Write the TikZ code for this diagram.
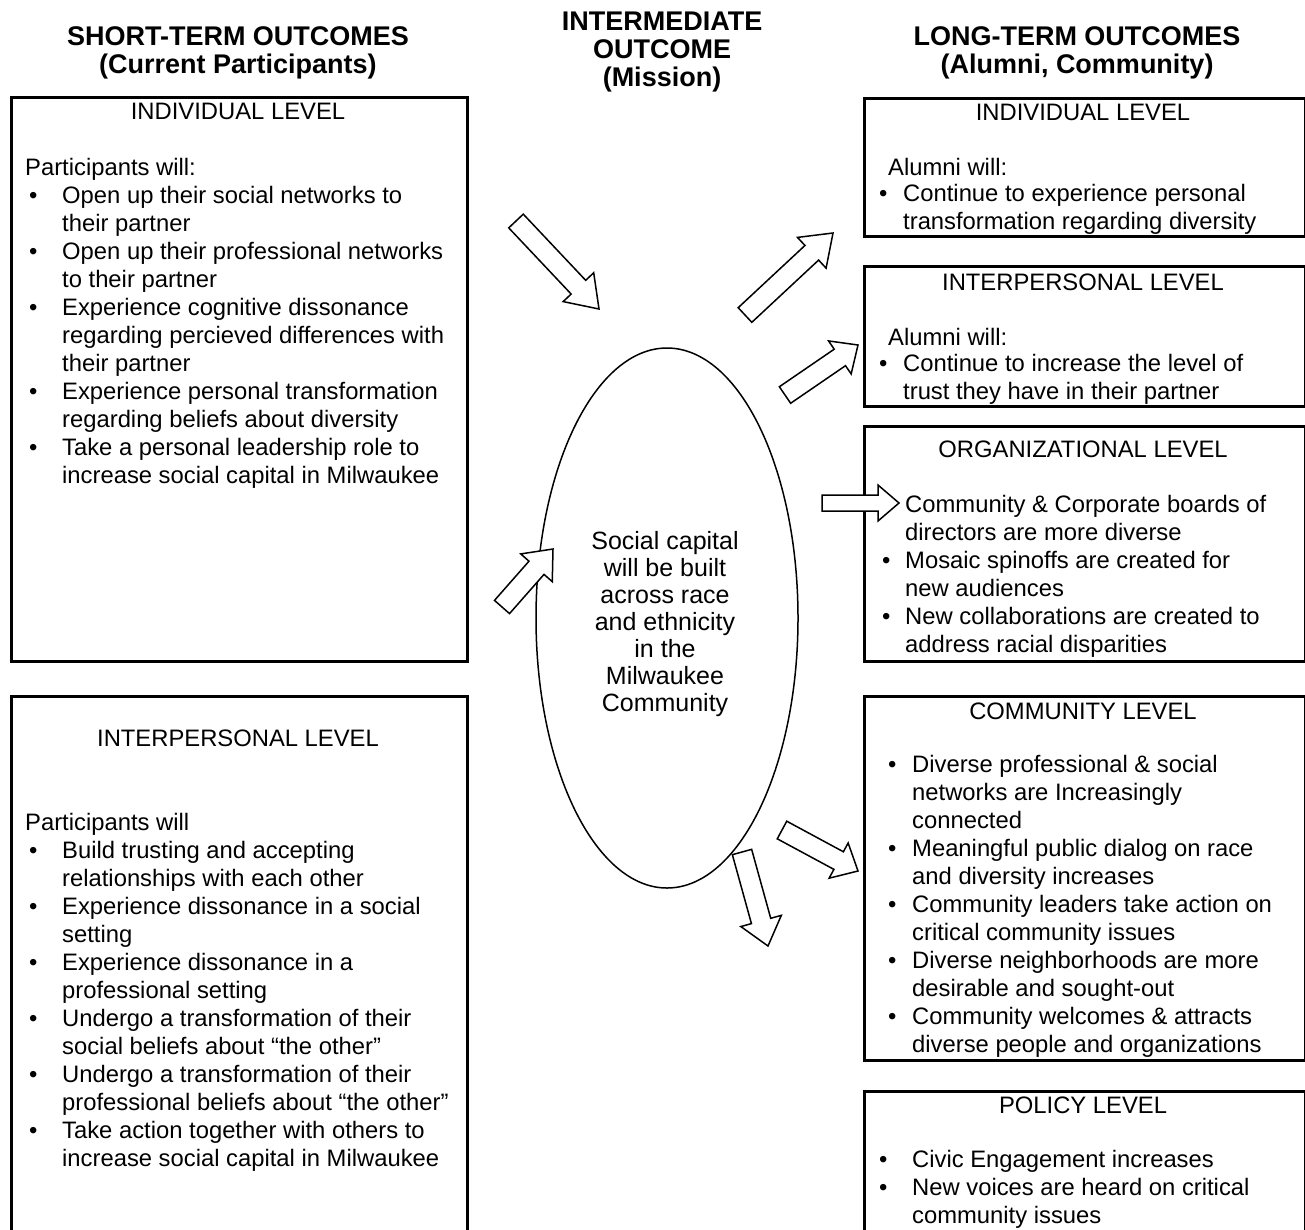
\documentclass[tikz,border=0pt]{standalone}
\usepackage{fontspec}
\setmainfont{Liberation Sans}
\usetikzlibrary{calc,shapes.geometric}
\newcommand\bodyfont{\fontsize{23.8}{28}\selectfont}
\newcommand\headfont{\fontsize{27}{28}\selectfont\bfseries}
\newcommand\ellfont{\fontsize{25}{27}\selectfont}
% block arrow: name, tail, tip, shaft half width, head half width, head length
\newcommand\barrow[6]{%
  \coordinate (#1h) at ($(#3)!#6!(#2)$);
  \draw[blockarrow] ($(#2)!#4!90:(#3)$) -- ($(#1h)!#4!90:(#3)$) -- ($(#1h)!#5!90:(#3)$)
    -- (#3) -- ($(#1h)!#5!-90:(#3)$) -- ($(#1h)!#4!-90:(#3)$) -- ($(#2)!#4!-90:(#3)$) -- cycle;}
\begin{document}
\begin{tikzpicture}[x=1pt,y=-1pt,
  box/.style={draw, line width=3pt, inner sep=0pt, anchor=north west},
  blockarrow/.style={draw, fill=white, line width=1.5pt, line join=miter},
  title/.style={anchor=base, font=\bodyfont, inner sep=0pt},
  txt/.style={anchor=base west, font=\bodyfont, inner sep=0pt},
  head/.style={anchor=base, font=\headfont, inner sep=0pt}]
\useasboundingbox (0,0) rectangle (1305,1229);
\clip (0,0) rectangle (1305,1229);
\fill[white] (0,0) rectangle (1305,1229);

% headers
\node[head] (h1) at (238,45) {\begin{tabular}[t]{@{}c@{}}SHORT-TERM OUTCOMES\\(Current Participants)\end{tabular}};
\node[head] (h2) at (662,30) {\begin{tabular}[t]{@{}c@{}}INTERMEDIATE\\OUTCOME\\(Mission)\end{tabular}};
\node[head] (h3) at (1077,45) {\begin{tabular}[t]{@{}c@{}}LONG-TERM OUTCOMES\\(Alumni, Community)\end{tabular}};

% left boxes
\node[box, minimum width=456pt, minimum height=564pt] (lind) at (10,96) {};
\node[box, minimum width=456pt, minimum height=600pt] (linter) at (10,695) {};
% right boxes
\node[box, minimum width=441pt, minimum height=138pt] (rind) at (863,97) {};
\node[box, minimum width=441pt, minimum height=140pt] (rinter) at (863,265) {};
\node[box, minimum width=441pt, minimum height=235pt] (rorg) at (863,425) {};
\node[box, minimum width=441pt, minimum height=364pt] (rcom) at (863,695) {};
\node[box, minimum width=441pt, minimum height=200pt] (rpol) at (863,1090) {};

% ellipse
\node[draw, ellipse, line width=1.5pt, minimum width=262pt, minimum height=540pt, inner sep=0pt] (mission) at (667,618) {};
\node[font=\ellfont, align=center, inner sep=0pt] (missiont) at (665,624)
  {Social capital\\will be built\\across race\\and ethnicity\\in the\\Milwaukee\\Community};

% left top box text
\node[title] (lindt) at (238,119) {INDIVIDUAL LEVEL};
\node[txt] (lindi) at (25,175) {Participants will:};
\node[txt] (lindl) at (29,203) {\begin{tabular}[t]{@{}p{33pt}@{}l@{}}
\textbullet & Open up their social networks to\\
 & their partner\\
\textbullet & Open up their professional networks\\
 & to their partner\\
\textbullet & Experience cognitive dissonance\\
 & regarding percieved differences with\\
 & their partner\\
\textbullet & Experience personal transformation\\
 & regarding beliefs about diversity\\
\textbullet & Take a personal leadership role to\\
 & increase social capital in Milwaukee
\end{tabular}};

% left bottom box text
\node[title] (lintt) at (238,746) {INTERPERSONAL LEVEL};
\node[txt] (linti) at (25,830) {Participants will};
\node[txt] (lintl) at (29,858) {\begin{tabular}[t]{@{}p{33pt}@{}l@{}}
\textbullet & Build trusting and accepting\\
 & relationships with each other\\
\textbullet & Experience dissonance in a social\\
 & setting\\
\textbullet & Experience dissonance in a\\
 & professional setting\\
\textbullet & Undergo a transformation of their\\
 & social beliefs about “the other”\\
\textbullet & Undergo a transformation of their\\
 & professional beliefs about “the other”\\
\textbullet & Take action together with others to\\
 & increase social capital in Milwaukee
\end{tabular}};

% right individual
\node[title] (rindt) at (1083,120) {INDIVIDUAL LEVEL};
\node[txt] (rindi) at (888,175) {Alumni will:};
\node[txt] (rindl) at (879,201) {\begin{tabular}[t]{@{}p{24pt}@{}l@{}}
\textbullet & Continue to experience personal\\
 & transformation regarding diversity
\end{tabular}};

% right interpersonal
\node[title] (rintt) at (1083,290) {INTERPERSONAL LEVEL};
\node[txt] (rinti) at (888,345) {Alumni will:};
\node[txt] (rintl) at (879,371) {\begin{tabular}[t]{@{}p{24pt}@{}l@{}}
\textbullet & Continue to increase the level of\\
 & trust they have in their partner
\end{tabular}};

% right organizational
\node[title] (rorgt) at (1083,457) {ORGANIZATIONAL LEVEL};
\node[txt] (rorgl) at (882,512) {\begin{tabular}[t]{@{}p{23pt}@{}l@{}}
 & Community \& Corporate boards of\\
 & directors are more diverse\\
\textbullet & Mosaic spinoffs are created for\\
 & new audiences\\
\textbullet & New collaborations are created to\\
 & address racial disparities
\end{tabular}};

% right community
\node[title] (rcomt) at (1083,719) {COMMUNITY LEVEL};
\node[txt] (rcoml) at (888,772) {\begin{tabular}[t]{@{}p{24pt}@{}l@{}}
\textbullet & Diverse professional \& social\\
 & networks are Increasingly\\
 & connected\\
\textbullet & Meaningful public dialog on race\\
 & and diversity increases\\
\textbullet & Community leaders take action on\\
 & critical community issues\\
\textbullet & Diverse neighborhoods are more\\
 & desirable and sought-out\\
\textbullet & Community welcomes \& attracts\\
 & diverse people and organizations
\end{tabular}};

% right policy
\node[title] (rpolt) at (1083,1113) {POLICY LEVEL};
\node[txt] (rpoll) at (879,1167) {\begin{tabular}[t]{@{}p{33pt}@{}l@{}}
\textbullet & Civic Engagement increases\\
\textbullet & New voices are heard on critical\\
 & community issues
\end{tabular}};

% block arrows
\coordinate (a1s) at (516,221); \coordinate (a1e) at (599,309);
\coordinate (a2s) at (745,315); \coordinate (a2e) at (833,233);
\coordinate (a3s) at (785,395); \coordinate (a3e) at (858,345);
\coordinate (a4s) at (822,503); \coordinate (a4e) at (899,503);
\coordinate (a5s) at (502,607); \coordinate (a5e) at (553,549);
\coordinate (a6s) at (782,830); \coordinate (a6e) at (858,871);
\coordinate (a7s) at (742,852); \coordinate (a7e) at (768,946);
\barrow{a1}{a1s}{a1e}{10pt}{21pt}{30pt}
\barrow{a2}{a2s}{a2e}{10pt}{21pt}{29pt}
\barrow{a3}{a3s}{a3e}{10pt}{20pt}{22pt}
\barrow{a4}{a4s}{a4e}{8pt}{18pt}{21pt}
\barrow{a5}{a5s}{a5e}{10pt}{21pt}{25pt}
\barrow{a6}{a6s}{a6e}{10pt}{20pt}{22pt}
\barrow{a7}{a7s}{a7e}{10pt}{21pt}{26pt}
\end{tikzpicture}
\end{document}
